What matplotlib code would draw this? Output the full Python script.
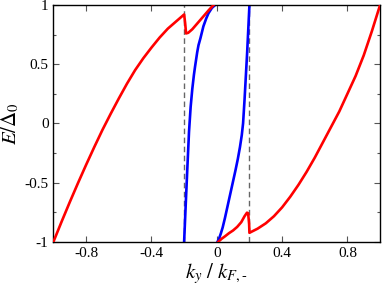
import matplotlib
matplotlib.use("Agg")
import matplotlib.pyplot as plt
from matplotlib.ticker import MultipleLocator

plt.rcParams['font.family'] = 'Liberation Serif'
plt.rcParams['mathtext.fontset'] = 'stix'
plt.rcParams['axes.unicode_minus'] = False

# красная ветвь слева (k, E)
red_left_k = [-1.0, -0.95, -0.9, -0.85, -0.8, -0.75, -0.7, -0.65, -0.6, -0.55, -0.5,
              -0.45, -0.4, -0.35, -0.3, -0.25, -0.2, -0.194, -0.188, -0.175, -0.15,
              -0.125, -0.1, -0.075, -0.05, -0.03, -0.02]
red_left_E = [-1.0, -0.83, -0.665, -0.505, -0.35, -0.2, -0.055, 0.08, 0.21, 0.335, 0.45,
              0.55, 0.64, 0.725, 0.80, 0.86, 0.92, 0.85, 0.76, 0.765, 0.795,
              0.835, 0.875, 0.915, 0.955, 0.985, 1.0]

# красная ветвь справа
red_right_k = [0.01, 0.03, 0.05, 0.075, 0.1, 0.125, 0.15, 0.17, 0.185, 0.192, 0.198, 0.2,
               0.25, 0.3, 0.35, 0.4, 0.45, 0.5, 0.55, 0.6, 0.65, 0.7, 0.75, 0.8,
               0.85, 0.9, 0.95, 1.0]
red_right_E = [-1.0, -0.975, -0.955, -0.928, -0.905, -0.875, -0.835, -0.785, -0.755, -0.76,
               -0.85, -0.925, -0.89, -0.845, -0.785, -0.71, -0.62, -0.52, -0.41, -0.29,
               -0.16, -0.03, 0.10, 0.25, 0.40, 0.575, 0.78, 1.0]

# синие ветви
blue_left_k = [-0.2, -0.19, -0.18, -0.17, -0.16, -0.15, -0.14, -0.133, -0.12, -0.112,
               -0.1, -0.082, -0.065, -0.051, -0.03, -0.01]
blue_left_E = [-1.0, -0.68, -0.37, -0.07, 0.14, 0.29, 0.41, 0.48, 0.60, 0.66,
               0.72, 0.82, 0.885, 0.93, 0.975, 1.0]

blue_right_k = [0.005, 0.015, 0.025, 0.036, 0.05, 0.066, 0.082, 0.098, 0.114, 0.129,
                0.142, 0.153, 0.161, 0.17, 0.178, 0.186, 0.193, 0.2]
blue_right_E = [-1.0, -0.97, -0.93, -0.88, -0.8, -0.7, -0.6, -0.5, -0.4, -0.3,
                -0.2, -0.1, 0.0, 0.2, 0.4, 0.6, 0.8, 1.0]

k_dashed = [-0.2, 0.2]

fig = plt.figure(figsize=(3.82, 2.86), dpi=100)
ax = fig.add_axes([0.140, 0.155, 0.855, 0.8275])

for kd in k_dashed:
    ax.axvline(kd, color='#666666', linestyle=(0, (4, 2.5)), linewidth=1.0, zorder=1)

ax.plot(red_left_k, red_left_E, color='red', linewidth=1.9, zorder=3)
ax.plot(red_right_k, red_right_E, color='red', linewidth=1.9, zorder=3)
ax.plot(blue_left_k, blue_left_E, color='blue', linewidth=1.9, zorder=2)
ax.plot(blue_right_k, blue_right_E, color='blue', linewidth=1.9, zorder=2)

ax.set_xlim(-1, 1)
ax.set_ylim(-1, 1)
ax.set_xticks([-0.8, -0.4, 0, 0.4, 0.8])
ax.set_xticklabels(['-0.8', '-0.4', '0', '0.4', '0.8'])
ax.set_yticks([-1, -0.5, 0, 0.5, 1])
ax.set_yticklabels(['-1', '-0.5', '0', '0.5', '1'])
ax.yaxis.set_minor_locator(MultipleLocator(0.25))
ax.tick_params(which='both', direction='in', top=True, right=True, labelsize=11, width=0.8, color='#555555')
ax.tick_params(which='major', length=4)
ax.tick_params(which='minor', length=2)
for s in ax.spines.values():
    s.set_linewidth(1.0)

ax.set_xlabel(r'$k_y\ /\ k_{F,\text{-}}$', fontsize=15, labelpad=1)
ax.set_ylabel(r'$E/\Delta_0$', fontsize=15, labelpad=2)

fig.savefig('out.png', dpi=100)
